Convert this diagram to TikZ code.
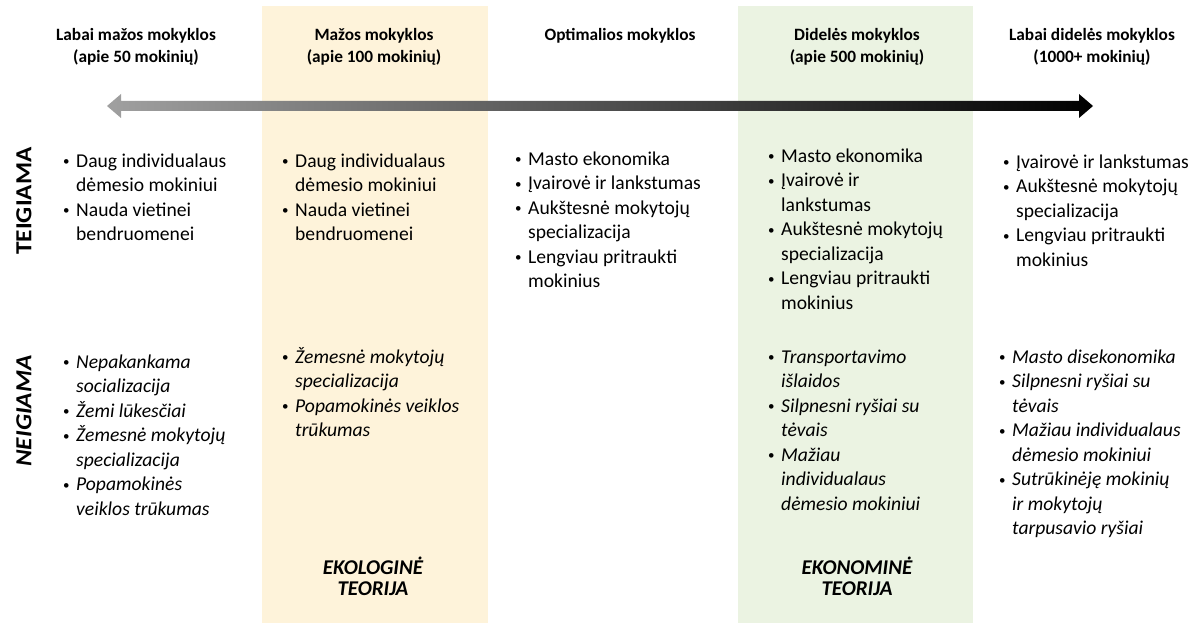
\documentclass[tikz,border=0pt]{standalone}
\usepackage{fontspec}
\setmainfont{Carlito}
\definecolor{ekoyellow}{RGB}{254,243,218}
\definecolor{ekogreen}{RGB}{235,243,226}
\definecolor{arrgray}{RGB}{160,160,160}
\newcommand{\bul}{\strut\makebox[14pt][l]{\hspace*{1pt}\raisebox{1.6pt}{\fontsize{13}{13}\selectfont\upshape\textbullet}}}
\newcommand{\cnt}{\hspace*{14pt}}
\tikzset{
  head/.style={anchor=north, inner sep=0pt, align=center, font=\fontsize{17.3}{22}\selectfont\bfseries},
  list/.style={anchor=north west, inner sep=0pt, align=left, font=\fontsize{19.6}{24.5}\selectfont},
  theory/.style={anchor=north, inner sep=0pt, align=center, font=\fontsize{21}{19.5}\selectfont\bfseries\itshape},
  side/.style={rotate=90, inner sep=0pt, xscale=1.1, font=\fontsize{23}{23}\selectfont\bfseries}
}
\begin{document}
\begin{tikzpicture}[x=1pt, y=-1pt]
  \useasboundingbox (0,0) rectangle (1199,623);
  \fill[ekoyellow] (262,6) rectangle (488,623);
  \fill[ekogreen] (738,6) rectangle (973,623);
  \shade[left color=arrgray, right color=black]
    (107,106) -- (121,94) -- (121,101) -- (1079,101) -- (1079,94) -- (1093,106)
    -- (1079,118) -- (1079,111) -- (121,111) -- (121,118) -- cycle;
  \node[head] (h1) at (136,24.6) {\strut Labai mažos mokyklos\\(apie 50 mokinių)};
  \node[head] (h2) at (374,24.6) {\strut Mažos mokyklos\\(apie 100 mokinių)};
  \node[head] (h3) at (620,24.6) {\strut Optimalios mokyklos};
  \node[head] (h4) at (857,24.6) {\strut Didelės mokyklos\\(apie 500 mokinių)};
  \node[head] (h5) at (1092,24.6) {\strut Labai didelės mokyklos\\(1000+ mokinių)};
  \node[side] (teig) at (24,201) {TEIGIAMA};
  \node[side, font=\fontsize{23}{23}\selectfont\bfseries\itshape] (neig) at (24,411) {NEIGIAMA};
  \node[list] (t1) at (62,149.9) {\bul Daug individualaus\\\cnt dėmesio mokiniui\\\bul Nauda vietinei\\\cnt bendruomenei};
  \node[list] (t2) at (281,149.9) {\bul Daug individualaus\\\cnt dėmesio mokiniui\\\bul Nauda vietinei\\\cnt bendruomenei};
  \node[list] (t3) at (514,147.9) {\bul Masto ekonomika\\\bul Įvairovė ir lankstumas\\\bul Aukštesnė mokytojų\\\cnt specializacija\\\bul Lengviau pritraukti\\\cnt mokinius};
  \node[list] (t4) at (767,144.9) {\bul Masto ekonomika\\\bul Įvairovė ir\\\cnt lankstumas\\\bul Aukštesnė mokytojų\\\cnt specializacija\\\bul Lengviau pritraukti\\\cnt mokinius};
  \node[list] (t5) at (1002,150.9) {\bul Įvairovė ir lankstumas\\\bul Aukštesnė mokytojų\\\cnt specializacija\\\bul Lengviau pritraukti\\\cnt mokinius};
  \begin{scope}[list/.append style={font=\fontsize{19.6}{24.5}\selectfont\itshape}]
    \node[list] (n1) at (62,350.9) {\bul Nepakankama\\\cnt socializacija\\\bul Žemi lūkesčiai\\\bul Žemesnė mokytojų\\\cnt specializacija\\\bul Popamokinės\\\cnt veiklos trūkumas};
    \node[list] (n2) at (281,345.9) {\bul Žemesnė mokytojų\\\cnt specializacija\\\bul Popamokinės veiklos\\\cnt trūkumas};
    \node[list] (n4) at (767,345.9) {\bul Transportavimo\\\cnt išlaidos\\\bul Silpnesni ryšiai su\\\cnt tėvais\\\bul Mažiau\\\cnt individualaus\\\cnt dėmesio mokiniui};
    \node[list] (n5) at (998,345.9) {\bul Masto disekonomika\\\bul Silpnesni ryšiai su\\\cnt tėvais\\\bul Mažiau individualaus\\\cnt dėmesio mokiniui\\\bul Sutrūkinėję mokinių\\\cnt ir mokytojų\\\cnt tarpusavio ryšiai};
  \end{scope}
  \node[theory] (eko) at (373,557) {\strut EKOLOGINĖ\\TEORIJA};
  \node[theory] (ekn) at (857,557) {\strut EKONOMINĖ\\TEORIJA};
\end{tikzpicture}
\end{document}
